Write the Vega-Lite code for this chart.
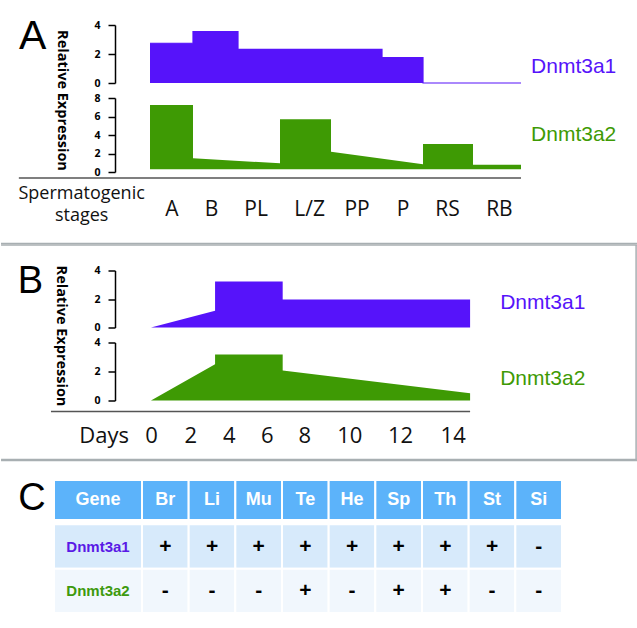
{
  "$schema": "https://vega.github.io/schema/vega-lite/v6.json",
  "autosize": {"type": "pad"},
  "padding": {"left": 0, "top": 16, "right": 0, "bottom": 0},
  "background": "white",
  "spacing": -1.5,
  "resolve": {"scale": {"x": "independent", "y": "independent"}},
  "config": {
    "view": {"stroke": null},
    "axis": {"grid": false},
    "axisY": {
      "offset": -61, "domainColor": "#000", "domainWidth": 1.5, "tickColor": "#000", "tickWidth": 1.5, "tickSize": 7,
      "labelFont": "Open Sans", "labelFontWeight": "bold", "labelFontSize": 10.5, "labelColor": "#000", "labelPadding": 8,
      "labelOverlap": false, "labelFlush": false, "title": null
    },
    "axisX": {
      "domain": false, "ticks": false, "tickSize": 0, "labelFont": "Open Sans", "labelColor": "#111",
      "labelBaseline": "alphabetic", "labelOverlap": false, "labelFlush": false, "labelAngle": 0, "title": null
    }
  },
  "datasets": {
    "a1": [
      {"stage": 0, "expr": 2.74}, {"stage": 1, "expr": 2.74}, {"stage": 1, "expr": 3.54}, {"stage": 2, "expr": 3.54},
      {"stage": 2, "expr": 2.32}, {"stage": 5, "expr": 2.32}, {"stage": 5, "expr": 1.75}, {"stage": 6, "expr": 1.75},
      {"stage": 6, "expr": 0}, {"stage": 8, "expr": 0}
    ],
    "a2": [
      {"stage": 0, "expr": 7.24}, {"stage": 1, "expr": 7.24}, {"stage": 1, "expr": 1.48}, {"stage": 3, "expr": 0.94},
      {"stage": 3, "expr": 5.7}, {"stage": 4, "expr": 5.7}, {"stage": 4, "expr": 2.19}, {"stage": 6, "expr": 0.83},
      {"stage": 6, "expr": 3.03}, {"stage": 7, "expr": 3.03}, {"stage": 7, "expr": 0.79}, {"stage": 8, "expr": 0.79}
    ],
    "b1": [
      {"day": 0, "expr": 0}, {"day": 3.29, "expr": 1.17}, {"day": 3.29, "expr": 3.23}, {"day": 6.85, "expr": 3.23},
      {"day": 6.85, "expr": 1.96}, {"day": 14.66, "expr": 1.96}
    ],
    "b2": [
      {"day": 0, "expr": 0}, {"day": 3.29, "expr": 2.5}, {"day": 3.29, "expr": 3.17}, {"day": 6.85, "expr": 3.17},
      {"day": 6.85, "expr": 2.07}, {"day": 14.66, "expr": 0.5}
    ],
    "table": [
      {"gene": "Dnmt3a1", "tissue": "Br", "expr": "+"}, {"gene": "Dnmt3a1", "tissue": "Li", "expr": "+"},
      {"gene": "Dnmt3a1", "tissue": "Mu", "expr": "+"}, {"gene": "Dnmt3a1", "tissue": "Te", "expr": "+"},
      {"gene": "Dnmt3a1", "tissue": "He", "expr": "+"}, {"gene": "Dnmt3a1", "tissue": "Sp", "expr": "+"},
      {"gene": "Dnmt3a1", "tissue": "Th", "expr": "+"}, {"gene": "Dnmt3a1", "tissue": "St", "expr": "+"},
      {"gene": "Dnmt3a1", "tissue": "Si", "expr": "-"},
      {"gene": "Dnmt3a2", "tissue": "Br", "expr": "-"}, {"gene": "Dnmt3a2", "tissue": "Li", "expr": "-"},
      {"gene": "Dnmt3a2", "tissue": "Mu", "expr": "-"}, {"gene": "Dnmt3a2", "tissue": "Te", "expr": "+"},
      {"gene": "Dnmt3a2", "tissue": "He", "expr": "-"}, {"gene": "Dnmt3a2", "tissue": "Sp", "expr": "+"},
      {"gene": "Dnmt3a2", "tissue": "Th", "expr": "+"}, {"gene": "Dnmt3a2", "tissue": "St", "expr": "-"},
      {"gene": "Dnmt3a2", "tissue": "Si", "expr": "-"}
    ]
  },
  "vconcat": [
    {
      "bounds": "flush",
      "spacing": 15,
      "resolve": {"scale": {"x": "independent", "y": "independent"}},
      "vconcat": [
        {
          "width": 467,
          "height": 58,
          "layer": [
            {
              "data": {"name": "a1"},
              "mark": {"type": "area", "color": "#5613FA", "opacity": 1, "fillOpacity": 1, "interpolate": "linear", "line": {"color": "#5613FA", "strokeWidth": 1.2}},
              "encoding": {
                "x": {"field": "stage", "type": "quantitative", "axis": null,
                  "scale": {"domain": [0, 1, 2, 3, 4, 5, 6, 7, 8], "range": [96, 139, 184, 226, 277, 328, 369, 419, 467], "nice": false, "zero": false}},
                "y": {"field": "expr", "type": "quantitative", "stack": null,
                  "scale": {"domain": [0, 4], "nice": false},
                  "axis": {"values": [0, 2, 4], "tickCount": 3, "title": "Relative Expression", "titleAngle": 90, "titleX": -54, "titleY": 75,
                    "titleAlign": "center", "titleBaseline": "middle", "titleFont": "Open Sans", "titleFontSize": 14.5,
                    "titleFontWeight": "bold", "titleColor": "#000"}}
              }
            },
            {
              "data": {"values": [{}]},
              "mark": {"type": "text", "text": "A", "font": "Liberation Sans", "fontSize": 41, "align": "center", "baseline": "alphabetic", "color": "#000"},
              "encoding": {"x": {"datum": -2.73, "type": "quantitative"}, "y": {"datum": 2.32, "type": "quantitative"}}
            },
            {
              "data": {"values": [{}]},
              "mark": {"type": "text", "text": "Dnmt3a1", "font": "Liberation Sans", "fontSize": 21, "align": "left", "baseline": "alphabetic", "color": "#5613FA"},
              "encoding": {"x": {"datum": 8.21, "type": "quantitative"}, "y": {"datum": 0.69, "type": "quantitative"}}
            }
          ]
        },
        {
          "width": 467,
          "height": 74,
          "layer": [
            {
              "data": {"name": "a2"},
              "mark": {"type": "area", "color": "#3E9A04", "opacity": 1, "interpolate": "linear"},
              "encoding": {
                "x": {"field": "stage", "type": "quantitative",
                  "scale": {"domain": [0, 1, 2, 3, 4, 5, 6, 7, 8], "range": [96, 139, 184, 226, 277, 328, 369, 419, 467], "nice": false, "zero": false},
                  "axis": {"values": [0.5, 1.4, 2.42, 3.57, 4.5, 5.5, 6.48, 7.54],
                    "labelExpr": "['A','B','PL','L/Z','PP','P','RS','RB'][floor(datum.value)]",
                    "labelFontSize": 21, "labelPadding": 43}},
                "y": {"field": "expr", "type": "quantitative", "stack": null, "scale": {"domain": [0, 8], "nice": false},
                  "axis": {"values": [0, 2, 4, 6, 8], "tickCount": 5}},
                "y2": {"datum": 0.3}
              }
            },
            {
              "data": {"values": [{}]},
              "mark": {"type": "rule", "color": "#555555", "strokeWidth": 1.5},
              "encoding": {"x": {"datum": -3.05, "type": "quantitative"}, "x2": {"datum": 8}, "y": {"datum": -0.65, "type": "quantitative"}}
            },
            {
              "data": {"values": [{}]},
              "mark": {"type": "rule", "color": "#A8AFB2", "strokeWidth": 1.5},
              "encoding": {"x": {"datum": -3.465, "type": "quantitative"}, "x2": {"datum": 10.42}, "y": {"datum": -7.73, "type": "quantitative"}}
            },
            {
              "data": {"values": [{}]},
              "mark": {"type": "text", "text": "Spermatogenic", "font": "Open Sans", "fontSize": 18, "align": "center", "baseline": "alphabetic", "color": "#111"},
              "encoding": {"x": {"datum": -1.59, "type": "quantitative"}, "y": {"datum": -2.92, "type": "quantitative"}}
            },
            {
              "data": {"values": [{}]},
              "mark": {"type": "text", "text": "stages", "font": "Open Sans", "fontSize": 18, "align": "center", "baseline": "alphabetic", "color": "#111"},
              "encoding": {"x": {"datum": -1.59, "type": "quantitative"}, "y": {"datum": -5.3, "type": "quantitative"}}
            },
            {
              "data": {"values": [{}]},
              "mark": {"type": "text", "text": "Dnmt3a2", "font": "Liberation Sans", "fontSize": 21, "align": "left", "baseline": "alphabetic", "color": "#3E9A04"},
              "encoding": {"x": {"datum": 8.21, "type": "quantitative"}, "y": {"datum": 3.38, "type": "quantitative"}}
            }
          ]
        }
      ]
    },
    {
      "bounds": "flush",
      "spacing": 15,
      "resolve": {"scale": {"x": "independent", "y": "independent"}},
      "vconcat": [
        {
          "width": 416,
          "height": 57,
          "layer": [
            {
              "data": {"name": "b1"},
              "mark": {"type": "area", "color": "#5613FA", "opacity": 1, "interpolate": "linear"},
              "encoding": {
                "x": {"field": "day", "type": "quantitative", "axis": null,
                  "scale": {"domain": [-8, 0, 2, 4, 6, 8, 10, 12, 14], "range": [-60.2, 97, 136.3, 174.7, 212.7, 250.3, 295.3, 346, 398.7], "nice": false, "zero": false}},
                "y": {"field": "expr", "type": "quantitative", "stack": null, "scale": {"domain": [0, 4], "nice": false},
                  "axis": {"values": [0, 2, 4], "tickCount": 3, "title": "Relative Expression", "titleAngle": 90, "titleX": -55, "titleY": 65,
                    "titleAlign": "center", "titleBaseline": "middle", "titleFont": "Open Sans", "titleFontSize": 14.5,
                    "titleFontWeight": "bold", "titleColor": "#000"}}
              }
            },
            {
              "data": {"values": [{}]},
              "mark": {"type": "text", "text": "B", "font": "Liberation Sans", "fontSize": 38, "align": "center", "baseline": "alphabetic", "color": "#000"},
              "encoding": {"x": {"datum": -6.13, "type": "quantitative"}, "y": {"datum": 2.41, "type": "quantitative"}}
            },
            {
              "data": {"values": [{}]},
              "mark": {"type": "text", "text": "Dnmt3a1", "font": "Liberation Sans", "fontSize": 21, "align": "left", "baseline": "alphabetic", "color": "#5613FA"},
              "encoding": {"x": {"datum": 15.8, "type": "quantitative"}, "y": {"datum": 1.28, "type": "quantitative"}}
            },
            {
              "data": {"values": [{}]},
              "mark": {"type": "rule", "color": "#A8AFB2", "strokeWidth": 1.5},
              "encoding": {"x": {"datum": -7.63, "type": "quantitative"}, "x2": {"datum": 20.99}, "y": {"datum": 5.79, "type": "quantitative"}}
            },
            {
              "data": {"values": [{}]},
              "mark": {"type": "rule", "color": "#A8AFB2", "strokeWidth": 1.5},
              "encoding": {"x": {"datum": 20.96, "type": "quantitative"}, "y": {"datum": 5.79, "type": "quantitative"}, "y2": {"datum": -9.26}}
            }
          ]
        },
        {
          "width": 416,
          "height": 58,
          "layer": [
            {
              "data": {"name": "b2"},
              "mark": {"type": "area", "color": "#3E9A04", "opacity": 1, "interpolate": "linear"},
              "encoding": {
                "x": {"field": "day", "type": "quantitative",
                  "scale": {"domain": [-8, 0, 2, 4, 6, 8, 10, 12, 14], "range": [-60.2, 97, 136.3, 174.7, 212.7, 250.3, 295.3, 346, 398.7], "nice": false, "zero": false},
                  "axis": {"values": [-2.41, 0, 2, 4, 6, 8, 10, 12, 14],
                    "labelExpr": "datum.value < 0 ? 'Days' : datum.label",
                    "labelFontSize": 22, "labelPadding": 41.7}},
                "y": {"field": "expr", "type": "quantitative", "stack": null, "scale": {"domain": [0, 4], "nice": false},
                  "axis": {"values": [0, 2, 4], "tickCount": 3}}
              }
            },
            {
              "data": {"values": [{}]},
              "mark": {"type": "text", "text": "Dnmt3a2", "font": "Liberation Sans", "fontSize": 21, "align": "left", "baseline": "alphabetic", "color": "#3E9A04"},
              "encoding": {"x": {"datum": 15.8, "type": "quantitative"}, "y": {"datum": 1.08, "type": "quantitative"}}
            },
            {
              "data": {"values": [{}]},
              "mark": {"type": "rule", "color": "#555555", "strokeWidth": 1.5},
              "encoding": {"x": {"datum": -5.09, "type": "quantitative"}, "x2": {"datum": 14.66}, "y": {"datum": -0.76, "type": "quantitative"}}
            },
            {
              "data": {"values": [{}]},
              "mark": {"type": "rule", "color": "#A8AFB2", "strokeWidth": 1.5},
              "encoding": {"x": {"datum": -7.63, "type": "quantitative"}, "x2": {"datum": 20.99}, "y": {"datum": -4.07, "type": "quantitative"}}
            }
          ]
        }
      ]
    },
    {
      "bounds": "flush",
      "spacing": 0,
      "resolve": {"scale": {"x": "independent", "y": "independent"}},
      "hconcat": [
        {
          "width": 88,
          "height": 133,
          "encoding": {
            "x": {"datum": 0, "type": "quantitative", "scale": {"domain": [0, 1], "nice": false, "zero": false}, "axis": null},
            "y": {"datum": 0, "type": "quantitative", "scale": {"domain": [0, 3], "reverse": true, "nice": false, "zero": false}, "axis": null}
          },
          "layer": [
            {
              "data": {"values": [{}]},
              "mark": {"type": "rule", "color": "#A8AFB2", "strokeWidth": 1.5},
              "encoding": {"x": {"datum": -0.602, "type": "quantitative"}, "x2": {"datum": 6.625}, "y": {"datum": -0.44, "type": "quantitative"}}
            },
            {
              "data": {"values": [{}]},
              "mark": {"type": "rect", "fill": "#5CB3FA", "stroke": "white", "strokeWidth": 2},
              "encoding": {"x": {"datum": 0, "type": "quantitative"}, "x2": {"datum": 1}, "y": {"datum": 0, "type": "quantitative"}, "y2": {"datum": 0.9}}
            },
            {
              "data": {"values": [{}]},
              "mark": {"type": "text", "text": "Gene", "font": "Liberation Sans", "fontWeight": "bold", "fontSize": 18, "color": "white", "align": "center", "baseline": "middle"},
              "encoding": {"x": {"datum": 0.5, "type": "quantitative"}, "y": {"datum": 0.45, "type": "quantitative"}}
            },
            {
              "data": {"values": [{}]},
              "mark": {"type": "text", "text": "C", "font": "Liberation Sans", "fontSize": 38, "color": "#000", "align": "center", "baseline": "alphabetic"},
              "encoding": {"x": {"datum": -0.25, "type": "quantitative"}, "y": {"datum": 0.68, "type": "quantitative"}}
            },
            {
              "data": {"name": "table"},
              "transform": [{"filter": "datum.tissue === 'Br' && datum.gene === 'Dnmt3a1'"}],
              "mark": {"type": "rect", "fill": "#D7EAFB", "stroke": "white", "strokeWidth": 2},
              "encoding": {"x": {"datum": 0, "type": "quantitative"}, "x2": {"datum": 1}, "y": {"datum": 1, "type": "quantitative"}, "y2": {"datum": 2}}
            },
            {
              "data": {"name": "table"},
              "transform": [{"filter": "datum.tissue === 'Br' && datum.gene === 'Dnmt3a2'"}],
              "mark": {"type": "rect", "fill": "#F1F7FD", "stroke": "white", "strokeWidth": 2},
              "encoding": {"x": {"datum": 0, "type": "quantitative"}, "x2": {"datum": 1}, "y": {"datum": 2, "type": "quantitative"}, "y2": {"datum": 3}}
            },
            {
              "data": {"name": "table"},
              "transform": [{"filter": "datum.tissue === 'Br' && datum.gene === 'Dnmt3a1'"}],
              "mark": {"type": "text", "font": "Liberation Sans", "fontWeight": "bold", "fontSize": 15, "color": "#5A1AE6", "align": "center", "baseline": "middle"},
              "encoding": {"x": {"datum": 0.5, "type": "quantitative"}, "y": {"datum": 1.5, "type": "quantitative"}, "text": {"field": "gene"}}
            },
            {
              "data": {"name": "table"},
              "transform": [{"filter": "datum.tissue === 'Br' && datum.gene === 'Dnmt3a2'"}],
              "mark": {"type": "text", "font": "Liberation Sans", "fontWeight": "bold", "fontSize": 15, "color": "#3E9A0E", "align": "center", "baseline": "middle"},
              "encoding": {"x": {"datum": 0.5, "type": "quantitative"}, "y": {"datum": 2.5, "type": "quantitative"}, "text": {"field": "gene"}}
            }
          ]
        },
        {
          "width": 420,
          "height": 133,
          "data": {"name": "table"},
          "encoding": {
            "x": {"field": "tissue", "type": "nominal", "sort": null, "scale": {"paddingInner": 0, "paddingOuter": 0}, "axis": null}
          },
          "layer": [
            {
              "transform": [{"filter": "datum.gene === 'Dnmt3a1'"}],
              "mark": {"type": "rect", "fill": "#5CB3FA", "stroke": "white", "strokeWidth": 2},
              "encoding": {
                "y": {"datum": 0, "type": "quantitative", "scale": {"domain": [0, 3], "reverse": true, "nice": false, "zero": false}, "axis": null},
                "y2": {"datum": 0.9}
              }
            },
            {
              "transform": [{"filter": "datum.gene === 'Dnmt3a1'"}],
              "mark": {"type": "text", "font": "Liberation Sans", "fontWeight": "bold", "fontSize": 18, "color": "white", "align": "center", "baseline": "middle"},
              "encoding": {"y": {"datum": 0.45, "type": "quantitative"}, "text": {"field": "tissue"}}
            },
            {
              "transform": [{"filter": "datum.gene === 'Dnmt3a1'"}],
              "mark": {"type": "rect", "fill": "#D7EAFB", "stroke": "white", "strokeWidth": 2},
              "encoding": {"y": {"datum": 1, "type": "quantitative"}, "y2": {"datum": 2}}
            },
            {
              "transform": [{"filter": "datum.gene === 'Dnmt3a2'"}],
              "mark": {"type": "rect", "fill": "#F1F7FD", "stroke": "white", "strokeWidth": 2},
              "encoding": {"y": {"datum": 2, "type": "quantitative"}, "y2": {"datum": 3}}
            },
            {
              "transform": [{"filter": "datum.gene === 'Dnmt3a1'"}],
              "mark": {"type": "text", "font": "Liberation Sans", "fontWeight": "bold", "fontSize": 21, "color": "#000", "align": "center", "baseline": "middle"},
              "encoding": {"y": {"datum": 1.5, "type": "quantitative"}, "text": {"field": "expr"}}
            },
            {
              "transform": [{"filter": "datum.gene === 'Dnmt3a2'"}],
              "mark": {"type": "text", "font": "Liberation Sans", "fontWeight": "bold", "fontSize": 21, "color": "#000", "align": "center", "baseline": "middle"},
              "encoding": {"y": {"datum": 2.5, "type": "quantitative"}, "text": {"field": "expr"}}
            }
          ]
        }
      ]
    }
  ]
}
